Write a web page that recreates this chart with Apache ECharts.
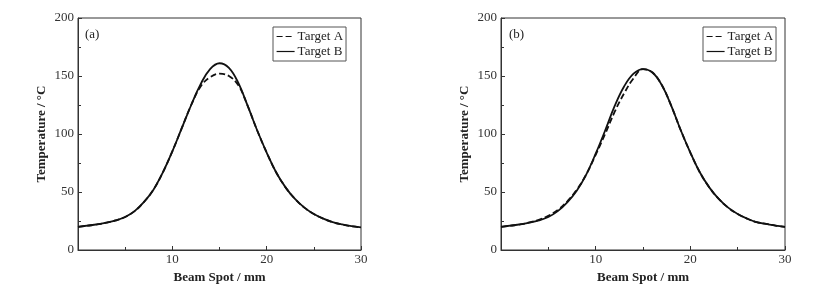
<!DOCTYPE html>
<html>
<head>
<meta charset="utf-8">
<script src="https://cdn.jsdelivr.net/npm/echarts@6/dist/echarts.min.js"></script>
<style>
  html, body { margin: 0; padding: 0; background: #fff; }
  #chart { width: 835px; height: 293px; }
</style>
</head>
<body>
<div id="chart"></div>
<script>
// beam spot positions, mm
var spot = [0, 1, 2, 3, 4, 5, 6, 7, 8, 9, 10, 11, 12, 13, 14, 15, 16, 17, 18, 19, 20, 21, 22, 23, 24, 25, 26, 27, 28, 29, 30];

// panel (a)
var aTargetA = [20, 21, 22, 23.5, 25.5, 28.5, 33.5, 41.5, 52, 67, 85, 105, 125, 141, 149, 152, 150, 142, 124, 103, 84, 67, 54, 44, 36.5, 31, 27, 24, 22, 20.5, 19.5];
var aTargetB = [20, 21, 22, 23.5, 25.5, 28.5, 33.5, 41.5, 52, 67, 85, 105, 125, 143, 156, 161, 157, 144, 124, 103, 84, 67, 54, 44, 36.5, 31, 27, 24, 22, 20.5, 19.5];

// panel (b)
var bTargetA = [20, 21, 22, 23.8, 26, 29.5, 34.5, 42, 52, 65, 82, 100, 119, 135, 148, 156, 153, 142, 124, 103, 84, 67, 54, 44, 36.5, 31, 27, 24, 22.5, 21, 20];
var bTargetB = [20, 21, 22, 23.5, 25.5, 28.5, 33.5, 41, 51, 65, 83, 103, 124, 141, 152, 156, 153, 142, 124, 103, 84, 67, 54, 44, 36.5, 31, 27, 24, 22.5, 21, 20];

var xTicks = [10, 20, 30];
var yTicks = [0, 50, 100, 150, 200];

function pairs(ys) {
    var out = [];
    for (var i = 0; i < spot.length; i++) out.push([spot[i], ys[i]]);
    return out;
}

var font = 'Liberation Serif';
var axisColor = '#333';

function xAxis(idx) {
    return {
        type: 'value', gridIndex: idx, min: 0, max: 30, interval: 10,
        name: 'Beam Spot / mm', nameLocation: 'middle', nameGap: 17,
        nameTextStyle: { fontFamily: font, fontWeight: 'bold', fontSize: 13, color: '#222' },
        axisLine: { lineStyle: { color: axisColor, width: 1 } },
        axisTick: { inside: true, length: 4, lineStyle: { color: axisColor } },
        minorTick: { show: true, splitNumber: 2, length: 3, lineStyle: { color: axisColor } },
        splitLine: { show: false },
        axisLabel: {
            margin: 3, fontFamily: font, fontSize: 13, color: '#333',
            formatter: function (v) { return xTicks.indexOf(v) >= 0 ? String(v) : ''; }
        }
    };
}

function yAxis(idx) {
    return {
        type: 'value', gridIndex: idx, min: 0, max: 200, interval: 50,
        name: 'Temperature / °C', nameLocation: 'middle', nameGap: 30,
        nameTextStyle: { fontFamily: font, fontWeight: 'bold', fontSize: 13, color: '#222' },
        axisLine: { show: true, lineStyle: { color: axisColor, width: 1 } },
        axisTick: { show: true, inside: true, length: 4, lineStyle: { color: axisColor } },
        minorTick: { show: true, splitNumber: 2, length: 3, lineStyle: { color: axisColor } },
        splitLine: { show: false },
        axisLabel: {
            margin: 4, fontFamily: font, fontSize: 13, color: '#333',
            formatter: function (v) { return yTicks.indexOf(v) >= 0 ? String(v) : ''; }
        }
    };
}

function line(name, data, idx, dashed) {
    return {
        type: 'line', name: name, xAxisIndex: idx, yAxisIndex: idx,
        data: pairs(data), smooth: 0.4, symbol: 'none', silent: true,
        lineStyle: { color: '#111', width: 1.8, type: dashed ? [6, 3] : 'solid' },
        itemStyle: { color: '#111' }
    };
}

function legend(left) {
    return {
        orient: 'vertical', left: left, top: 27,
        data: ['Target A', 'Target B'],
        itemWidth: 18, itemHeight: 10, itemGap: 2,
        padding: [3, 3, 3, 3],
        borderColor: '#555', borderWidth: 1,
        selectedMode: false,
        itemStyle: { opacity: 0 },
        lineStyle: { width: 1.2 },
        textStyle: { fontFamily: font, fontSize: 13, color: '#222', padding: [0, 0, 0, -2] }
    };
}

var chart = echarts.init(document.getElementById('chart'));
chart.setOption({
    animation: false,
    backgroundColor: '#fff',
    title: [
        { text: '(a)', left: 80, top: 23, textStyle: { fontFamily: font, fontSize: 13, fontWeight: 'normal', color: '#222' } },
        { text: '(b)', left: 504, top: 23, textStyle: { fontFamily: font, fontSize: 13, fontWeight: 'normal', color: '#222' } }
    ],
    grid: [
        { left: 78, top: 18, width: 283, height: 232, show: true, borderColor: axisColor, borderWidth: 1 },
        { left: 501, top: 18, width: 284, height: 232, show: true, borderColor: axisColor, borderWidth: 1 }
    ],
    legend: [legend(273), legend(703)],
    xAxis: [xAxis(0), xAxis(1)],
    yAxis: [yAxis(0), yAxis(1)],
    series: [
        line('Target A', aTargetA, 0, true),
        line('Target B', aTargetB, 0, false),
        line('Target A', bTargetA, 1, true),
        line('Target B', bTargetB, 1, false)
    ]
});
</script>
</body>
</html>
